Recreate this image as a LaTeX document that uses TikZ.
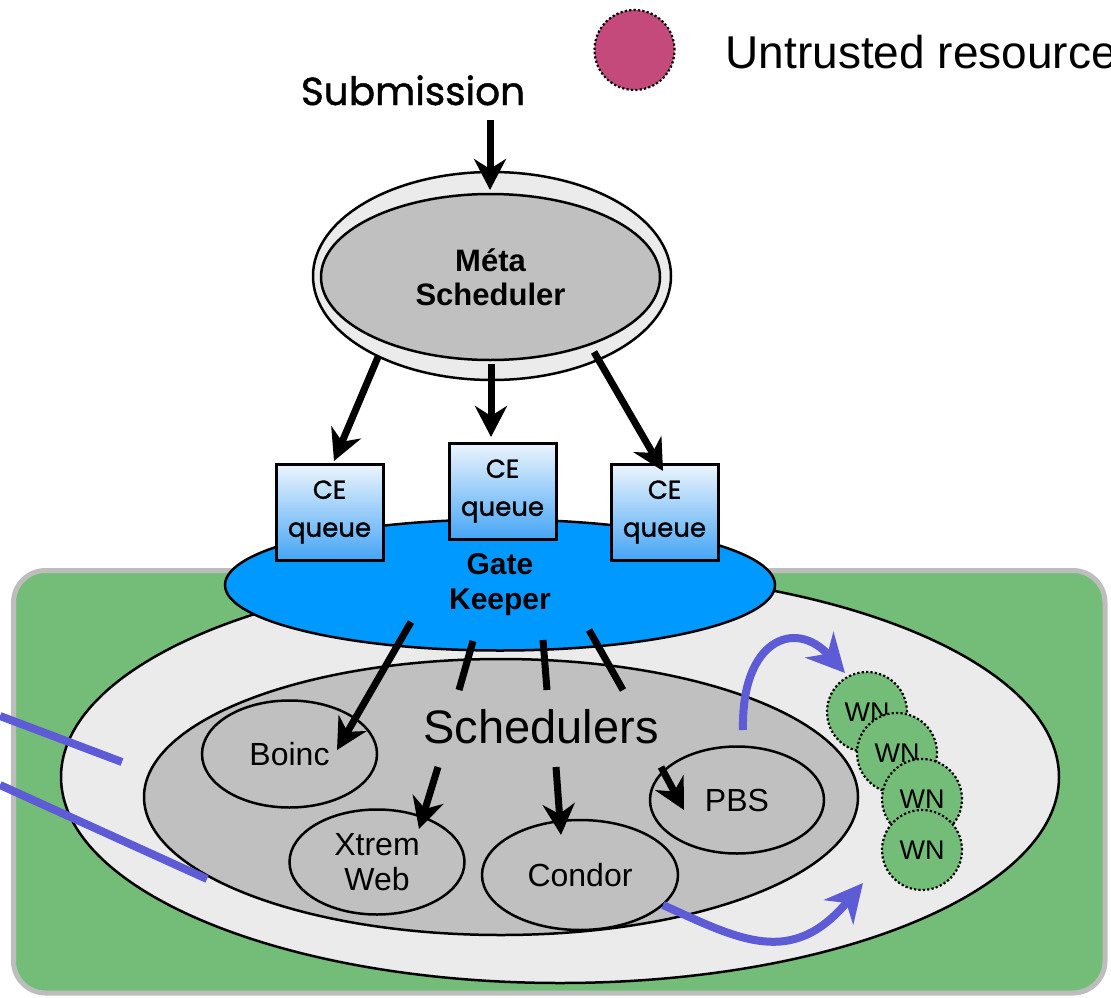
\documentclass[tikz,border=0pt]{standalone}
\usepackage{fontspec}
\setmainfont{Liberation Sans}
\newfontfamily\geofont{Poppins}[BoldFont=Poppins, BoldFeatures={FakeBold=1.2}]
\usetikzlibrary{arrows.meta,shapes.geometric}
\definecolor{grn}{HTML}{74BD78}
\definecolor{lgray}{HTML}{EBEBEB}
\definecolor{dgray}{HTML}{C0C0C0}
\definecolor{bordergray}{HTML}{BDBDBD}
\definecolor{gkblue}{HTML}{0099FF}
\definecolor{ceTop}{HTML}{EDF5FD}
\definecolor{ceBot}{HTML}{45A5F5}
\definecolor{violetblue}{HTML}{5E5BD7}
\definecolor{untrust}{HTML}{C44A7C}
\tikzset{
  blk/.style={line width=7pt, draw=black},
  blkarrow/.style={blk, -{Stealth[length=31pt,width=32pt,inset=10pt]}},
  vline/.style={line width=8pt, draw=violetblue},
  varrow/.style={vline, -{Stealth[length=38pt,width=38pt,inset=12pt]}},
  oval/.style={ellipse, draw, line width=2.5pt, inner sep=0pt, outer sep=0pt},
  schedbox/.style={oval, fill=dgray, font=\fontsize{32}{35}\selectfont, align=center},
  wnode/.style={circle, fill=grn, draw, line width=2.2pt, dash pattern=on 2.2pt off 2.2pt, minimum size=80pt, inner sep=0pt, font=\fontsize{27}{30}\selectfont},
  cebox/.style={rectangle, draw, line width=3pt, top color=ceTop, bottom color=ceBot, minimum width=107pt, minimum height=96pt, inner sep=0pt, align=center, font=\geofont\bfseries\fontsize{26}{38}\selectfont},
}
\begin{document}
\begin{tikzpicture}[x=1pt,y=-1pt]
\useasboundingbox (0,0) rectangle (1111,998);

% site background
\draw[line width=5pt, draw=bordergray, fill=grn, rounded corners=32pt] (13.5,570.5) rectangle (1105,993);

% big site ellipse
\node[oval, fill=lgray, minimum width=998pt, minimum height=412pt] (site) at (560,777) {};
% schedulers ellipse
\node[oval, fill=dgray, minimum width=714pt, minimum height=276pt] (scheds) at (501,797) {};
\node[anchor=base, font=\fontsize{47}{50}\selectfont] (schedtxt) at (541,743) {Schedulers};

\node[schedbox, minimum width=175pt, minimum height=107pt] (boinc) at (289.5,754) {Boinc};
\node[schedbox, minimum width=175pt, minimum height=105pt] (xtrem) at (377,862) {Xtrem\\Web};
\node[schedbox, minimum width=196pt, minimum height=110pt] (condor) at (580,875) {Condor};
\node[schedbox, minimum width=174pt, minimum height=107pt] (pbs) at (737,800) {PBS};

% worker nodes
\node[wnode] (wn1) at (867,712) {WN};
\node[wnode] (wn2) at (897,753) {WN};
\node[wnode] (wn3) at (922,799) {WN};
\node[wnode] (wn4) at (922,850) {WN};

% violet lines
\coordinate (in1a) at (0,716);
\coordinate (in1b) at (122,762);
\coordinate (in2a) at (0,785);
\coordinate (in2b) at (207,879);
\draw[vline] (in1a) -- (in1b);
\draw[vline] (in2a) -- (in2b);
\coordinate (pbsout) at (743,730);
\coordinate (wntop) at (845,673);
\draw[varrow] (pbsout) .. controls (741,640) and (795,618) .. (wntop);
\coordinate (condout) at (663,905);
\coordinate (wnbot) at (863,883);
\draw[varrow] (condout) .. controls (740,940) and (792,968) .. (wnbot);

% gate keeper
\node[oval, fill=gkblue, minimum width=550pt, minimum height=131pt, font=\bfseries\fontsize{30}{35}\selectfont, align=center] (gk) at (500,585) {Gate\\Keeper};

% CE queues
\node[cebox] (ce1) at (329.5,512) {CE\\queue};
\node[cebox] (ce2) at (502.5,491) {CE\\queue};
\node[cebox] (ce3) at (664.5,512) {CE\\queue};

% meta scheduler
\node[oval, fill=lgray, minimum width=358pt, minimum height=208pt] (metaout) at (492,276) {};
\node[oval, fill=dgray, minimum width=339pt, minimum height=166pt, font=\bfseries\fontsize{31}{34}\selectfont, align=center] (meta) at (490.5,277) {Méta\\Scheduler};

% submission
\node[anchor=base, font=\geofont\bfseries\fontsize{39}{44}\selectfont] (sub) at (413,105) {Submission};
\coordinate (subtip) at (490,190);
\coordinate (subtail) at (490,120);
\draw[blkarrow] (subtail) -- (subtip);

% meta -> CE arrows
\coordinate (m1) at (378,357);
\coordinate (m2) at (491,364);
\coordinate (m3) at (594,352);
\coordinate (c1) at (334,461);
\coordinate (c2) at (491,437);
\coordinate (c3) at (663,471);
\draw[blkarrow] (m1) -- (c1);
\draw[blkarrow] (m2) -- (c2);
\draw[blkarrow] (m3) -- (c3);

% gate keeper -> schedulers
\coordinate (g1) at (411,622);
\coordinate (b1) at (337,750);
\draw[blkarrow] (g1) -- (b1);
\coordinate (g2a) at (473,641);
\coordinate (g2b) at (459,690);
\coordinate (g3a) at (543,640);
\coordinate (g3b) at (547,690);
\coordinate (g4a) at (589,630);
\coordinate (g4b) at (623,690);
\draw[blk] (g2a) -- (g2b);
\draw[blk] (g3a) -- (g3b);
\draw[blk] (g4a) -- (g4b);
\coordinate (s1) at (438,767);
\coordinate (x1) at (419,829);
\coordinate (s2) at (556,767);
\coordinate (x2) at (561,835);
\coordinate (s3) at (661,767);
\coordinate (x3) at (684,810);
\draw[blkarrow] (s1) -- (x1);
\draw[blkarrow] (s2) -- (x2);
\draw[blkarrow] (s3) -- (x3);

% legend
\node[circle, fill=untrust, draw, line width=2.2pt, dash pattern=on 2.2pt off 2.2pt, minimum size=80pt, inner sep=0pt] (legend) at (634.5,50) {};
\node[anchor=base west, font=\fontsize{46}{50}\selectfont] (legendtxt) at (722,68) {Untrusted resource};
\end{tikzpicture}
\end{document}
